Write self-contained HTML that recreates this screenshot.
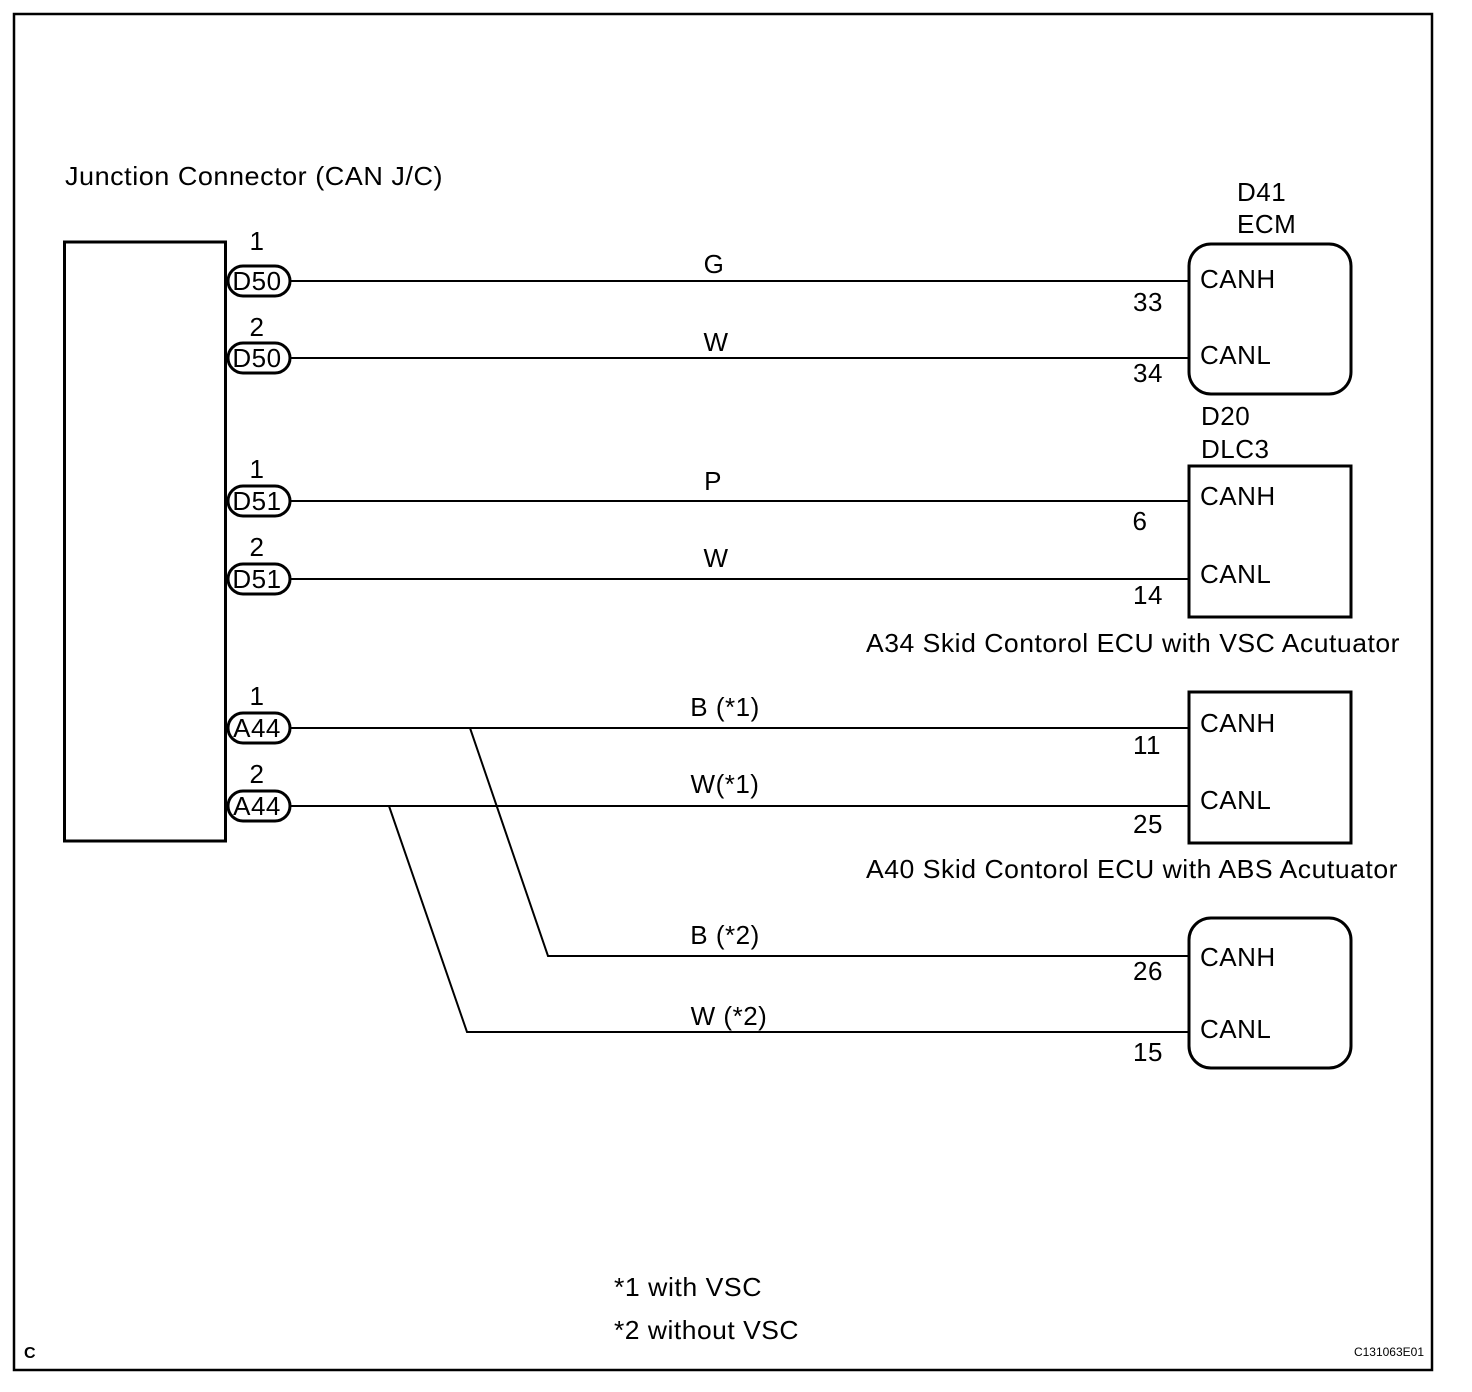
<!DOCTYPE html>
<html><head><style>body{margin:0;background:#fff}svg{display:block}text{font-family:"Liberation Sans",Arial,sans-serif;font-size:26px;letter-spacing:0.5px;fill:#000}</style></head>
<body>
<svg width="1472" height="1392" viewBox="0 0 1472 1392" xmlns="http://www.w3.org/2000/svg">
<rect x="14" y="14" width="1418" height="1356" fill="none" stroke="#000" stroke-width="2.5"/>
<text x="65" y="185" textLength="378" lengthAdjust="spacingAndGlyphs">Junction  Connector (CAN J/C)</text>
<rect x="64.5" y="242" width="161" height="599" fill="none" stroke="#000" stroke-width="3"/>
<g stroke="#000" stroke-width="2" fill="none">
<line x1="290" y1="281" x2="1189" y2="281"/>
<line x1="290" y1="358" x2="1189" y2="358"/>
<line x1="290" y1="501" x2="1189" y2="501"/>
<line x1="290" y1="579" x2="1189" y2="579"/>
<line x1="290" y1="728" x2="1189" y2="728"/>
<line x1="290" y1="806" x2="1189" y2="806"/>
<polyline points="470,728 548,956 1189,956"/>
<polyline points="389,806 467,1032 1189,1032"/>
</g>
<g stroke="#000" stroke-width="3" fill="#fff">
<rect x="228" y="266" width="62" height="30" rx="15"/>
<rect x="228" y="343" width="62" height="30" rx="15"/>
<rect x="228" y="486" width="62" height="30" rx="15"/>
<rect x="228" y="564" width="62" height="30" rx="15"/>
<rect x="228" y="713" width="62" height="30" rx="15"/>
<rect x="228" y="791" width="62" height="30" rx="15"/>
<rect x="1189" y="244" width="162" height="150" rx="22"/>
<rect x="1189" y="466" width="162" height="151"/>
<rect x="1189" y="692" width="162" height="151"/>
<rect x="1189" y="918" width="162" height="150" rx="22"/>
</g>
<g text-anchor="middle">
<g style="font-size:25px;letter-spacing:0">
<text x="257" y="290">D50</text><text x="257" y="367">D50</text>
<text x="257" y="510">D51</text><text x="257" y="588">D51</text>
<text x="257" y="737">A44</text><text x="257" y="815">A44</text>
</g>
<text x="257" y="250">1</text><text x="257" y="336">2</text>
<text x="257" y="478">1</text><text x="257" y="556">2</text>
<text x="257" y="705">1</text><text x="257" y="783">2</text>
<text x="714" y="273">G</text><text x="716" y="351">W</text>
<text x="713" y="490">P</text><text x="716" y="567">W</text>
<text x="725" y="716">B (*1)</text><text x="725" y="793">W(*1)</text>
<text x="725" y="944">B (*2)</text><text x="729" y="1025">W (*2)</text>
<text x="1148" y="311">33</text><text x="1148" y="382">34</text>
<text x="1140" y="530">6</text><text x="1148" y="604">14</text>
<text x="1147" y="754">11</text><text x="1148" y="833">25</text>
<text x="1148" y="980">26</text><text x="1148" y="1061">15</text>
</g>
<text x="1237" y="201">D41</text><text x="1237" y="233">ECM</text>
<text x="1201" y="425">D20</text><text x="1201" y="458">DLC3</text>
<text x="1200" y="288">CANH</text><text x="1200" y="364">CANL</text>
<text x="1200" y="505">CANH</text><text x="1200" y="583">CANL</text>
<text x="1200" y="732">CANH</text><text x="1200" y="809">CANL</text>
<text x="1200" y="966">CANH</text><text x="1200" y="1038">CANL</text>
<text x="866" y="652" textLength="534" lengthAdjust="spacingAndGlyphs">A34 Skid Contorol ECU with VSC Acutuator</text>
<text x="866" y="878" textLength="532" lengthAdjust="spacingAndGlyphs">A40 Skid Contorol ECU with ABS Acutuator</text>
<text x="614" y="1296" textLength="148" lengthAdjust="spacingAndGlyphs">*1 with VSC</text>
<text x="614" y="1339" textLength="185" lengthAdjust="spacingAndGlyphs">*2 without VSC</text>
<text x="24" y="1358" style="font-size:16px;font-weight:bold;letter-spacing:0">C</text>
<text x="1424" y="1356" text-anchor="end" style="font-size:12px;letter-spacing:0">C131063E01</text>
</svg>
</body></html>
